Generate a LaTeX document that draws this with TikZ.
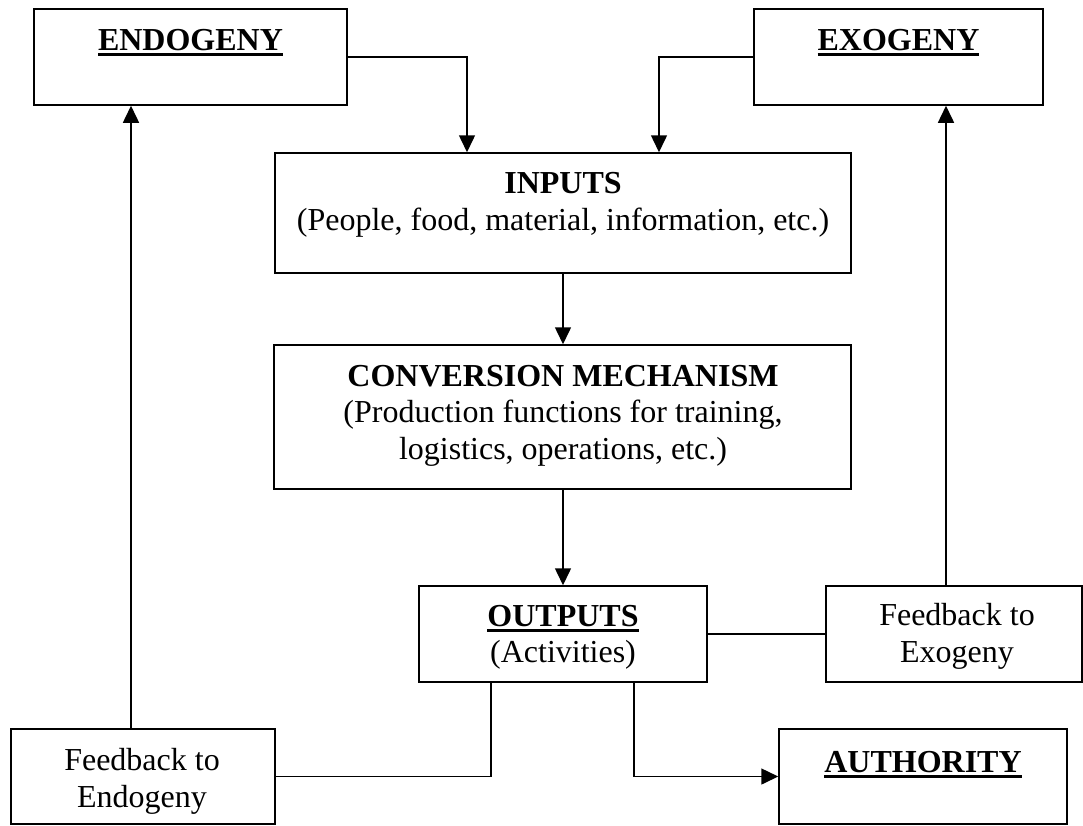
\documentclass[tikz,border=0pt]{standalone}
\usepackage{fontspec}
\setmainfont{Liberation Serif}
\usetikzlibrary{arrows.meta}
\newcommand\myul[1]{\setbox0\hbox{#1}\rlap{\rule[-5.5pt]{\wd0}{3pt}}\box0}
\tikzset{
  box/.style={draw, line width=1.5pt, inner sep=0pt, fill=none},
  txt/.style={anchor=base, inner sep=0pt, font=\fontsize{32}{38}\selectfont},
  conn/.style={line width=1.5pt},
  arr/.style={line width=1.5pt, -{Triangle[length=17pt,width=16pt]}}
}
\begin{document}
\begin{tikzpicture}[x=1pt,y=-1pt]
\useasboundingbox (0,0) rectangle (1083,825);
% boxes
\node[box, minimum width=313pt, minimum height=96pt] (endo) at (190.5,57) {};
\node[box, minimum width=289pt, minimum height=96pt] (exo) at (898.5,57) {};
\node[box, minimum width=576pt, minimum height=120pt] (inputs) at (563,213) {};
\node[box, minimum width=577pt, minimum height=144pt] (conv) at (562.5,417) {};
\node[box, minimum width=288pt, minimum height=96pt] (outputs) at (563,634) {};
\node[box, minimum width=256pt, minimum height=96pt] (fbexo) at (954,634) {};
\node[box, minimum width=264pt, minimum height=95pt] (fbendo) at (143,776.5) {};
\node[box, minimum width=288pt, minimum height=95pt] (auth) at (923,776.5) {};
% texts
\node[txt] (endot) at (190.5,50) {\myul{\textbf{ENDOGENY}}};
\node[txt] (exot) at (898.5,50) {\myul{\textbf{EXOGENY}}};
\node[txt] (inputst1) at (563,193) {\textbf{INPUTS}};
\node[txt] (inputst2) at (563,230) {(People, food, material, information, etc.)};
\node[txt] (convt1) at (563,386) {\textbf{CONVERSION MECHANISM}};
\node[txt] (convt2) at (563,422) {(Production functions for training,};
\node[txt] (convt3) at (563,459) {logistics, operations, etc.)};
\node[txt] (outt1) at (563,626) {\myul{\textbf{OUTPUTS}}};
\node[txt] (outt2) at (563,662) {(Activities)};
\node[txt] (fbexot1) at (957,625) {Feedback to};
\node[txt] (fbexot2) at (957,662) {Exogeny};
\node[txt] (fbendot1) at (142,770) {Feedback to};
\node[txt] (fbendot2) at (142,807) {Endogeny};
\node[txt] (autht) at (923,772) {\myul{\textbf{AUTHORITY}}};
% connectors
\draw[arr] (endo.east) -| ([xshift=-96pt]inputs.north);
\draw[arr] (exo.west) -| ([xshift=96pt]inputs.north);
\draw[arr] (inputs.south) -- (conv.north -| inputs.south);
\draw[arr] (conv.south -| outputs.north) -- (outputs.north);
\draw[conn] (outputs.east) -- (fbexo.west);
\draw[arr] ([xshift=-8pt]fbexo.north) -- ([xshift=-8pt]fbexo.north |- exo.south);
\draw[arr] ([xshift=-12pt]fbendo.north) -- ([xshift=-12pt]fbendo.north |- endo.south);
\draw[conn] ([xshift=-72pt]outputs.south) |- (fbendo.east);
\draw[arr] ([xshift=71pt]outputs.south) |- (auth.west);
\end{tikzpicture}
\end{document}
